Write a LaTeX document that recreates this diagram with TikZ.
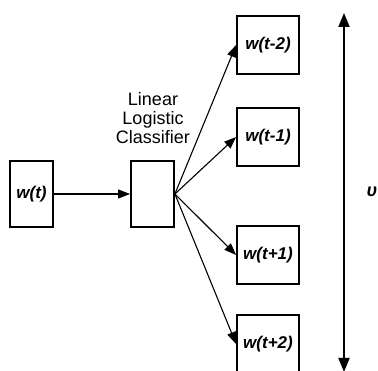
\documentclass[tikz,border=0pt]{standalone}
\usepackage{fontspec}
\setmainfont{Liberation Sans}
\usetikzlibrary{arrows.meta}
\tikzset{
  wordbox/.style={draw, line width=1.8pt, minimum width=62pt, minimum height=58pt,
    inner sep=0pt, font=\fontsize{17}{20}\selectfont\bfseries\itshape},
  smallbox/.style={draw, line width=1.8pt, minimum width=43pt, minimum height=66pt,
    inner sep=0pt, font=\fontsize{17}{20}\selectfont\bfseries\itshape},
  link/.style={line width=1.1pt, -{Triangle[length=12pt,width=9pt]}},
  span/.style={line width=1.8pt, {Triangle[length=14pt,width=11pt]}-{Triangle[length=14pt,width=11pt]}}
}
\begin{document}
\begin{tikzpicture}[x=1pt,y=-1pt]
  \useasboundingbox (0,0) rectangle (378,371);
  % input word and classifier
  \node[smallbox] (in) at (31.5,194) {w(t)};
  \node[smallbox] (clf) at (152.5,194) {};
  \node[align=center, inner sep=0pt, font=\fontsize{18}{19}\selectfont] (lbl) at (153,118)
    {Linear\\Logistic\\Classifier};
  % context words
  \node[wordbox] (m2) at (268,45) {w(t-2)};
  \node[wordbox] (m1) at (268,137) {w(t-1)};
  \node[wordbox] (p1) at (268,255) {w(t+1)};
  \node[wordbox] (p2) at (268,344) {w(t+2)};
  % connectors
  \draw[link] (in) -- (clf);
  \foreach \t in {m2,m1,p1,p2}
    \draw[link] (clf.east) -- (\t.west);
  % window span
  \coordinate (top) at (344,13);
  \coordinate (bot) at (344,372);
  \draw[span] (top) -- (bot);
  \node[font=\fontsize{18}{20}\selectfont\bfseries\itshape] (ups) at (372,192) {υ};
\end{tikzpicture}
\end{document}
